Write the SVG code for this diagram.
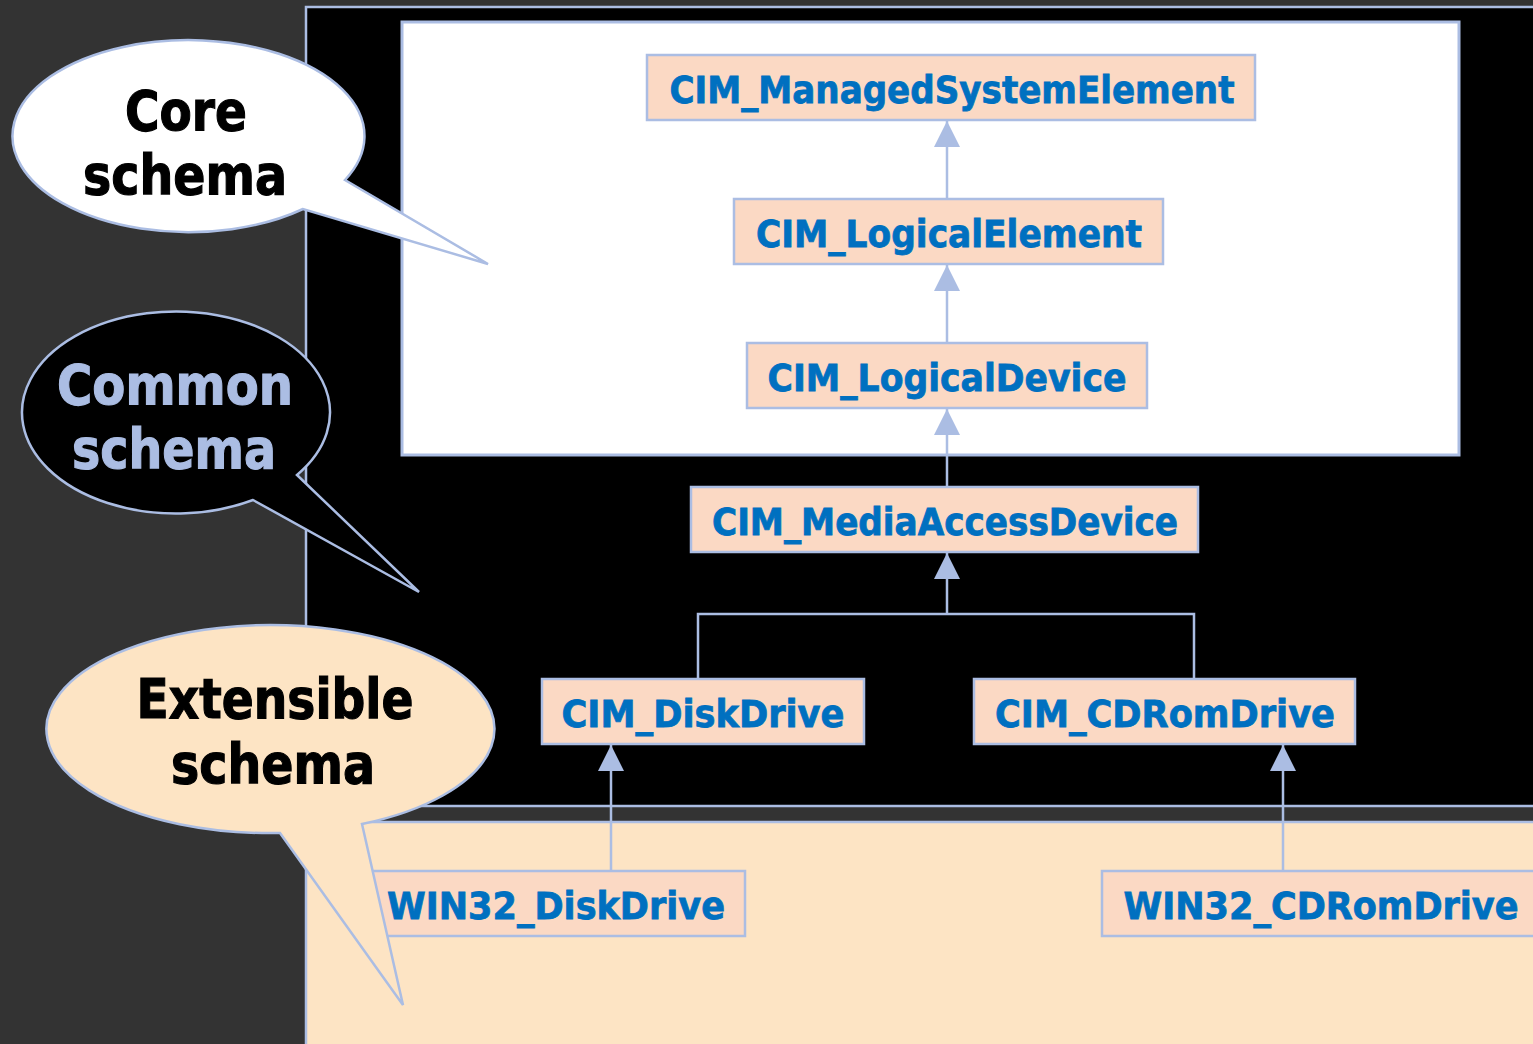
<svg xmlns="http://www.w3.org/2000/svg" width="1533" height="1044" viewBox="0 0 1533 1044">
<style>
.node rect{fill:#fbd9c4;stroke:#abbde3;stroke-width:2.5}
.node text{font-family:"DejaVu Sans",Verdana,sans-serif;font-weight:bold;font-size:37px;fill:#0070c0;stroke:#0070c0;stroke-width:0.8;text-anchor:middle}
.conn{fill:none;stroke:#abbde3;stroke-width:2.5}
.call{stroke:#abbde3;stroke-width:2.5}
.ctext{font-family:"DejaVu Sans",Verdana,sans-serif;font-weight:bold;font-size:55px;stroke-width:1.2;text-anchor:middle}
</style>
<defs>
<marker id="tri" markerWidth="26" markerHeight="26" refX="26" refY="13" orient="auto" markerUnits="userSpaceOnUse">
<path d="M0,0 L26,13 L0,26 Z" fill="#abbde3"/>
</marker>
</defs>
<rect x="0" y="0" width="1533" height="1044" fill="#333333"/>
<g id="panels">
<rect x="306" y="7" width="1240" height="799" fill="#000000" stroke="#abbde3" stroke-width="2.5"/>
<rect x="402" y="22" width="1057" height="433" fill="#ffffff" stroke="#abbde3" stroke-width="3"/>
<rect x="306" y="822" width="1240" height="230" fill="#fde4c4" stroke="#abbde3" stroke-width="2.5"/>
</g>
<g id="connectors">
<path class="conn" d="M947 199 V121" marker-end="url(#tri)"/>
<path class="conn" d="M947 343 V265" marker-end="url(#tri)"/>
<path class="conn" d="M947 487 V409" marker-end="url(#tri)"/>
<path class="conn" d="M698 679 V614 H1194 V679"/>
<path class="conn" d="M947 614 V553" marker-end="url(#tri)"/>
<path class="conn" d="M611 871 V745" marker-end="url(#tri)"/>
<path class="conn" d="M1283 871 V745" marker-end="url(#tri)"/>
</g>
<g id="n1" class="node"><rect x="647" y="55" width="608" height="65"/><text x="952" y="103" textLength="565" lengthAdjust="spacingAndGlyphs">CIM_ManagedSystemElement</text></g>
<g id="n2" class="node"><rect x="734" y="199" width="429" height="65"/><text x="949" y="247" textLength="386" lengthAdjust="spacingAndGlyphs">CIM_LogicalElement</text></g>
<g id="n3" class="node"><rect x="747" y="343" width="400" height="65"/><text x="947" y="391" textLength="359" lengthAdjust="spacingAndGlyphs">CIM_LogicalDevice</text></g>
<g id="n4" class="node"><rect x="691" y="487" width="507" height="65"/><text x="945" y="535" textLength="466" lengthAdjust="spacingAndGlyphs">CIM_MediaAccessDevice</text></g>
<g id="n5" class="node"><rect x="542" y="679" width="322" height="65"/><text x="703" y="727" textLength="283" lengthAdjust="spacingAndGlyphs">CIM_DiskDrive</text></g>
<g id="n6" class="node"><rect x="974" y="679" width="381" height="65"/><text x="1165" y="727" textLength="340" lengthAdjust="spacingAndGlyphs">CIM_CDRomDrive</text></g>
<g id="n7" class="node"><rect x="360" y="871" width="385" height="65"/><text x="556" y="919" textLength="338" lengthAdjust="spacingAndGlyphs">WIN32_DiskDrive</text></g>
<g id="n8" class="node"><rect x="1102" y="871" width="445" height="65"/><text x="1321" y="919" textLength="395" lengthAdjust="spacingAndGlyphs">WIN32_CDRomDrive</text></g>
<g id="core">
<path class="call" fill="#ffffff" d="M345 180 A176 96 0 1 0 303 209 L488 264 Z"/>
<text class="ctext" x="186" y="130" fill="#000000" stroke="#000000" textLength="122" lengthAdjust="spacingAndGlyphs">Core</text>
<text class="ctext" x="185" y="194" fill="#000000" stroke="#000000" textLength="204" lengthAdjust="spacingAndGlyphs">schema</text>
</g>
<g id="common">
<path class="call" fill="#000000" d="M297 475 A154 101 0 1 0 253 500 L419 592 Z"/>
<text class="ctext" x="175" y="404" fill="#abbde3" stroke="#abbde3" textLength="236" lengthAdjust="spacingAndGlyphs">Common</text>
<text class="ctext" x="174" y="468" fill="#abbde3" stroke="#abbde3" textLength="204" lengthAdjust="spacingAndGlyphs">schema</text>
</g>
<g id="extensible">
<path class="call" fill="#fde4c4" d="M362 824 A224 104 0 1 0 280 833 L403 1005 Z"/>
<text class="ctext" x="275" y="718" fill="#000000" stroke="#000000" textLength="277" lengthAdjust="spacingAndGlyphs">Extensible</text>
<text class="ctext" x="273" y="783" fill="#000000" stroke="#000000" textLength="204" lengthAdjust="spacingAndGlyphs">schema</text>
</g>
</svg>
